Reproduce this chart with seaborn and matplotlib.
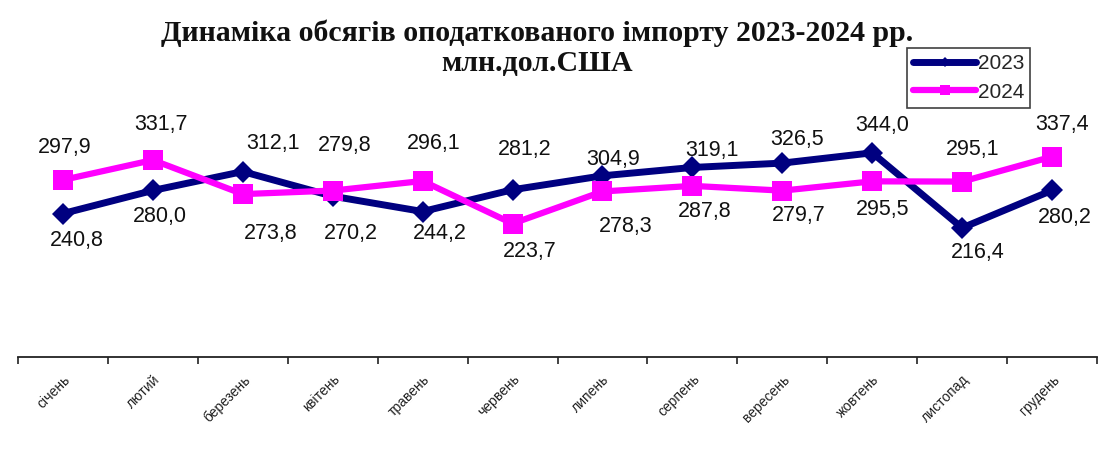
import numpy as np
import pandas as pd
import matplotlib
matplotlib.use("Agg")
import matplotlib.pyplot as plt
import seaborn as sns

# ---- data ----
months = ["січень", "лютий", "березень", "квітень", "травень", "червень",
          "липень", "серпень", "вересень", "жовтень", "листопад", "грудень"]
values_2023 = [240.8, 280.0, 312.1, 270.2, 244.2, 281.2, 304.9, 319.1, 326.5, 344.0, 216.4, 280.2]
values_2024 = [297.9, 331.7, 273.8, 279.8, 296.1, 223.7, 278.3, 287.8, 279.7, 295.5, 295.1, 337.4]
series_names = ["2023", "2024"]
title_line1 = "Динаміка обсягів оподаткованого імпорту 2023-2024 рр."
title_line2 = "млн.дол.США"

# label offsets in pixels (dx, dy with dy downward)
offs_2023 = [(14, 27), (7, 26), (30, -28), (18, 37), (17, 22), (12, -40),
             (11, -16), (20, -17), (15, -24), (10, -27), (16, 25), (13, 27)]
offs_2024 = [(2, -32), (8, -36), (28, 39), (12, -45), (11, -37), (17, 28),
             (23, 35), (12, 26), (16, 25), (10, 28), (11, -32), (10, -32)]

sns.set_theme(style="white")
plt.rcParams['font.family'] = ['Liberation Sans', 'DejaVu Sans']

W, H = 1104, 454
fig = plt.figure(figsize=(W / 100, H / 100), dpi=100)
ax = fig.add_axes([18 / W, 1 - 357 / H, (1097 - 18) / W, 296 / H])

x = np.arange(len(months))
df = pd.DataFrame({
    "x": np.concatenate([x, x]),
    "value": values_2023 + values_2024,
    "year": [series_names[0]] * len(x) + [series_names[1]] * len(x),
})

colors = {"2023": "#000080", "2024": "#FF00FF"}
styles = {"2023": dict(marker="D", markersize=11, linewidth=5),
          "2024": dict(marker="s", markersize=15, linewidth=4.5)}

for name in series_names:
    sub = df[df["year"] == name]
    sns.lineplot(data=sub, x="x", y="value", ax=ax, color=colors[name],
                 label=name, markeredgewidth=0, zorder=3 if name == "2023" else 4,
                 **styles[name])

for vals, offs in ((values_2023, offs_2023), (values_2024, offs_2024)):
    for xi, v, (dx, dy) in zip(x, vals, offs):
        ax.annotate(f"{v:.1f}".replace(".", ","), (xi, v), xytext=(dx, -dy),
                    textcoords="offset pixels", ha="center", va="center",
                    fontsize=15.5, color="#111111", annotation_clip=False)

ax.set_xlim(-0.5, len(months) - 0.5)
ax.set_ylim(-3, 500)
ax.set_xticks(x)
ax.set_xticklabels(months, rotation=45, ha="right", rotation_mode="anchor",
                   fontsize=10, color="#222222")
ax.set_xticks(np.arange(-0.5, len(months)), minor=True)
ax.tick_params(axis="x", which="major", length=0, pad=11)
ax.tick_params(axis="x", which="minor", length=5, width=1.2, color="#222222",
               direction="out", bottom=True)
ax.set_yticks([])
ax.set_xlabel("")
ax.set_ylabel("")
for s in ("top", "right", "left"):
    ax.spines[s].set_visible(False)
ax.spines["bottom"].set_color("#222222")
ax.spines["bottom"].set_linewidth(1.3)
ax.patch.set_alpha(0)

fig.text(537 / W, 1 - 33 / H, title_line1, ha="center", va="center",
         fontsize=21.5, fontweight="bold", color="#111111",
         family=["Liberation Serif", "DejaVu Serif"])
fig.text(537 / W, 1 - 63 / H, title_line2, ha="center", va="center",
         fontsize=21.5, fontweight="bold", color="#111111",
         family=["Liberation Serif", "DejaVu Serif"])

leg = ax.legend(loc="upper left", bbox_to_anchor=(907 / W, 1 - 48 / H),
                bbox_transform=fig.transFigure, borderaxespad=0, fontsize=15,
                frameon=True, fancybox=False, handlelength=3.0, handletextpad=0.1,
                markerscale=0.5, borderpad=0.3, labelspacing=0.45)
leg.get_frame().set_edgecolor("#111111")
leg.get_frame().set_linewidth(1.2)

fig.savefig("out.png", dpi=100)
